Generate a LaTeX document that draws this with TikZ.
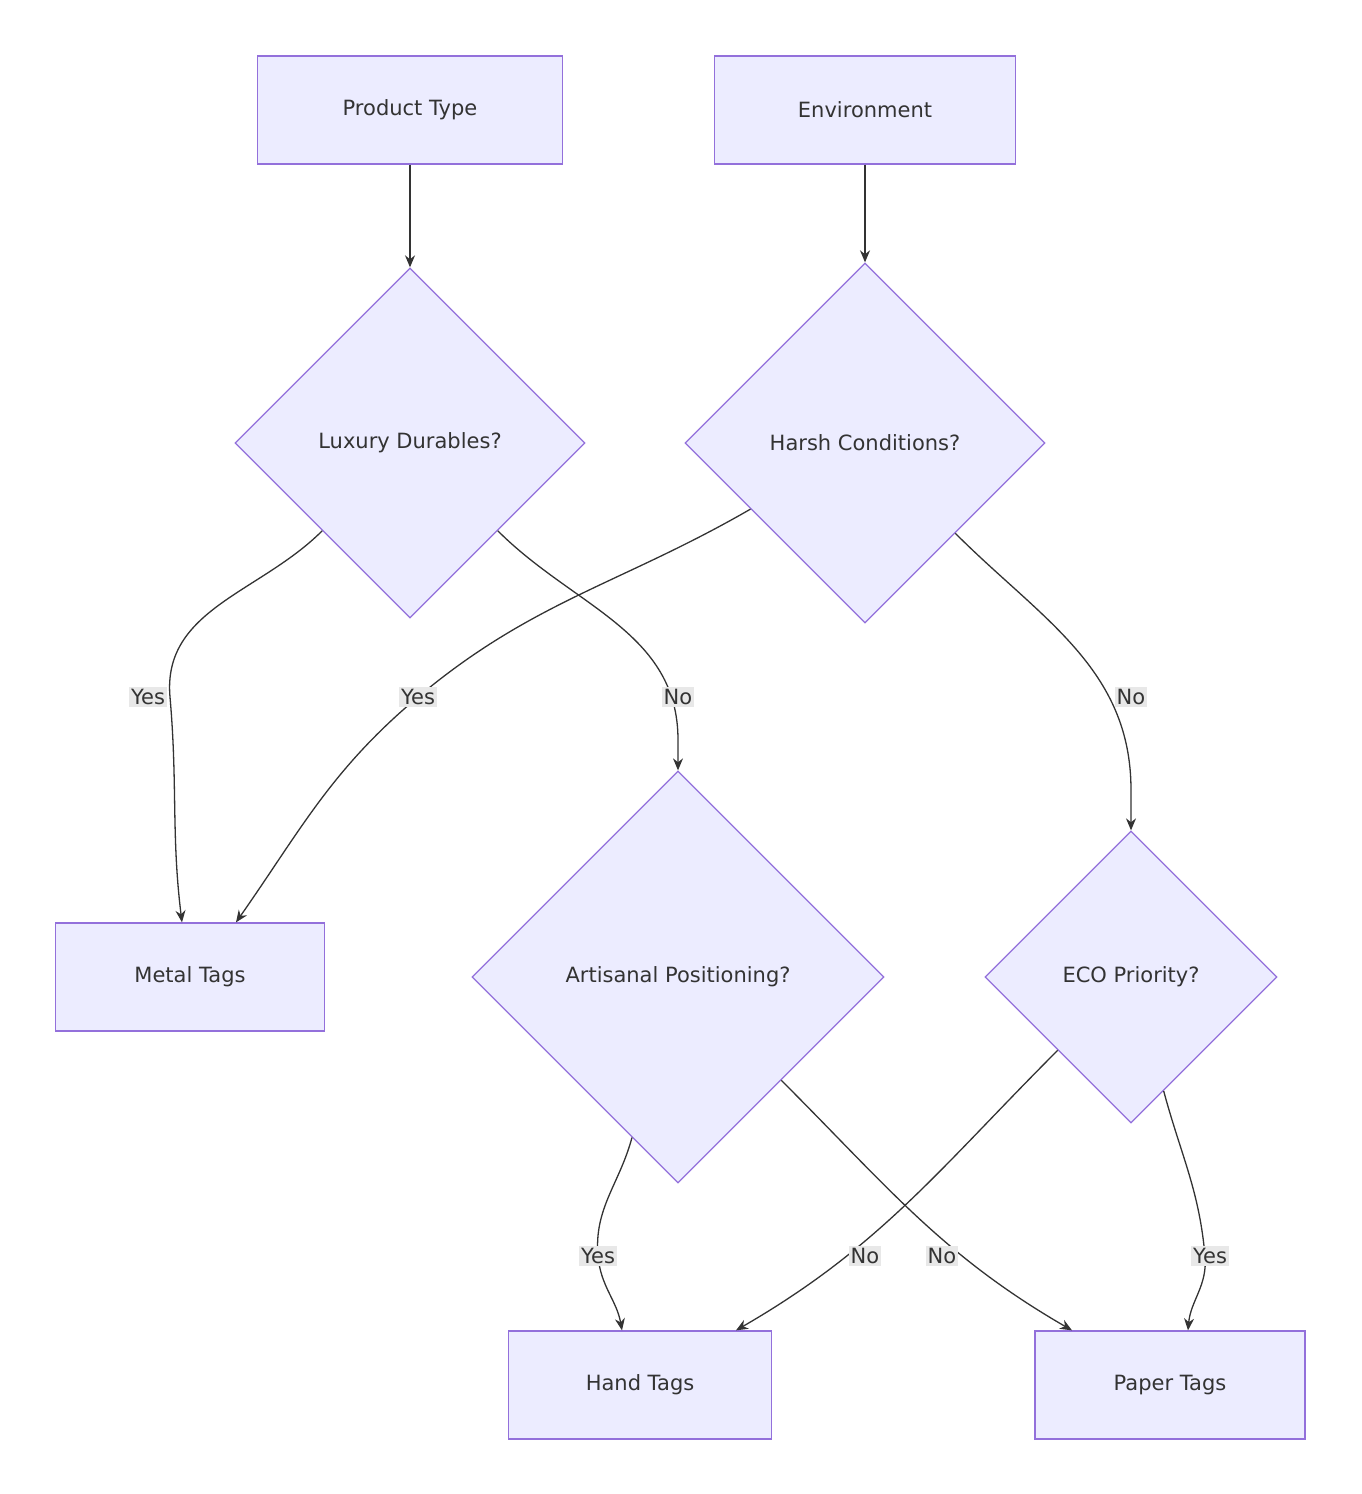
\documentclass[tikz,border=0pt]{standalone}
\usepackage{fontspec}
\setmainfont{DejaVu Sans}
\usetikzlibrary{shapes.geometric,arrows.meta}
\definecolor{nodefill}{HTML}{ECECFF}
\definecolor{nodeline}{HTML}{9370DB}
\definecolor{edgecol}{HTML}{333333}
\definecolor{lblfill}{HTML}{E8E8E8}
\begin{document}
\begin{tikzpicture}[x=1pt, y=-1pt,
            every node/.style={font=\fontsize{21}{25}\selectfont, text=edgecol},
            box/.style={draw=nodeline, fill=nodefill, line width=1.3pt, minimum height=108pt, inner sep=0pt},
            decide/.style={draw=nodeline, fill=nodefill, line width=1.3pt, diamond, inner sep=0pt},
            lbl/.style={fill=lblfill, inner sep=2pt},
            every path/.style={line width=1.3pt, draw=edgecol, -{Stealth[length=12pt,width=10pt]}}]
        \useasboundingbox[draw=none,-] (0,0) rectangle (1361,1494);
        \node[box, minimum width=305pt] (prod) at (410,110) {Product Type};
        \node[box, minimum width=301pt] (env) at (865,110) {Environment};
        \node[decide, minimum size=350pt] (lux) at (410,443) {Luxury Durables?};
        \node[decide, minimum size=360pt] (harsh) at (865,443) {Harsh Conditions?};
        \node[decide, minimum size=412pt] (art) at (678,977) {Artisanal Positioning?};
        \node[decide, minimum size=292pt] (eco) at (1131,977) {ECO Priority?};
        \node[box, minimum width=269pt] (metal) at (190,977) {Metal Tags};
        \node[box, minimum width=263pt] (hand) at (640,1385) {Hand Tags};
        \node[box, minimum width=270pt] (paper) at (1170,1385) {Paper Tags};
        % straight links
        \draw (prod) -- (lux);
        \draw (env) -- (harsh);
        % curved links
        \draw (lux.south west) to[out=225,in=95] (170,697) to[out=275,in=97] ([xshift=-8pt]metal.north);
        \node[lbl] (y1) at (148,697) {Yes};
        \draw (harsh.210) to[out=210,in=40] (418,697) to[out=220,in=55] ([xshift=46pt]metal.north);
        \node[lbl] (y2) at (418,697) {Yes};
        \draw (lux.south east) to[out=-45,in=90] (678,740) -- (art.north);
        \node[lbl] (n1) at (678,697) {No};
        \draw (harsh.south east) to[out=-45,in=90] (1131,790) -- (eco.north);
        \node[lbl] (n2) at (1131,697) {No};
        \draw (art.254) to[out=255,in=95] (598,1256) to[out=275,in=100] ([xshift=-18pt]hand.north);
        \node[lbl] (y3) at (598,1256) {Yes};
        \draw (eco.south west) to[out=225,in=30] ([xshift=96pt]hand.north);
        \node[lbl] (n3) at (865,1256) {No};
        \draw (art.south east) to[out=-45,in=150] ([xshift=-98pt]paper.north);
        \node[lbl] (n4) at (942,1256) {No};
        \draw (eco.286) to[out=285,in=95] (1205,1256) to[out=275,in=85] ([xshift=18pt]paper.north);
        \node[lbl] (y4) at (1210,1256) {Yes};
\end{tikzpicture}
\end{document}
